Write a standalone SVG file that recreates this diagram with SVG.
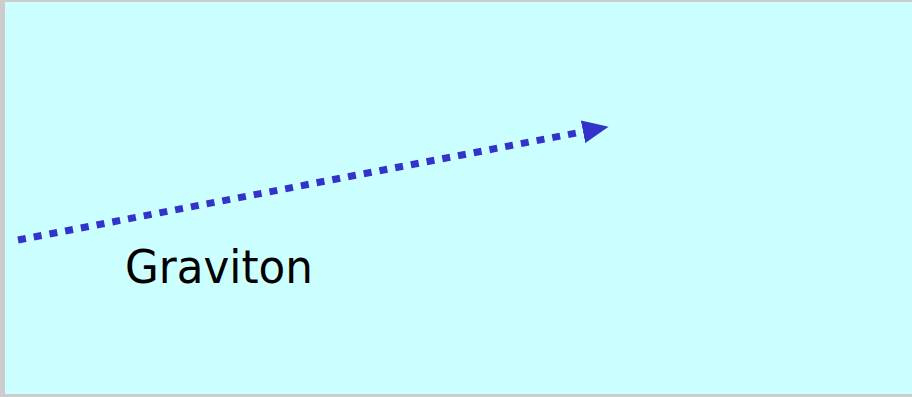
<svg xmlns="http://www.w3.org/2000/svg" width="912" height="397" viewBox="0 0 912 397">
<style>
.conn{stroke:#3333cc;stroke-width:7;stroke-dasharray:8 8;fill:none}
.lbl{font-family:"Comic Sans MS","DejaVu Sans",sans-serif;font-size:47px;fill:#000}
</style>
<defs>
<marker id="ah" markerUnits="userSpaceOnUse" markerWidth="26" markerHeight="23" refX="4" refY="11.5" orient="auto">
<path d="M0,0 L26,11.5 L0,23 Z" fill="#3333cc"/>
</marker>
</defs>
<rect x="0" y="0" width="912" height="397" fill="#cccccc"/>
<rect x="5" y="2" width="907" height="392" fill="#ccffff"/>
<g id="connectors">
<path class="conn" d="M18,240 L587,131" marker-end="url(#ah)"/>
</g>
<g id="label-graviton">
<text class="lbl" x="125" y="283" textLength="188" lengthAdjust="spacingAndGlyphs">Graviton</text>
</g>
</svg>
